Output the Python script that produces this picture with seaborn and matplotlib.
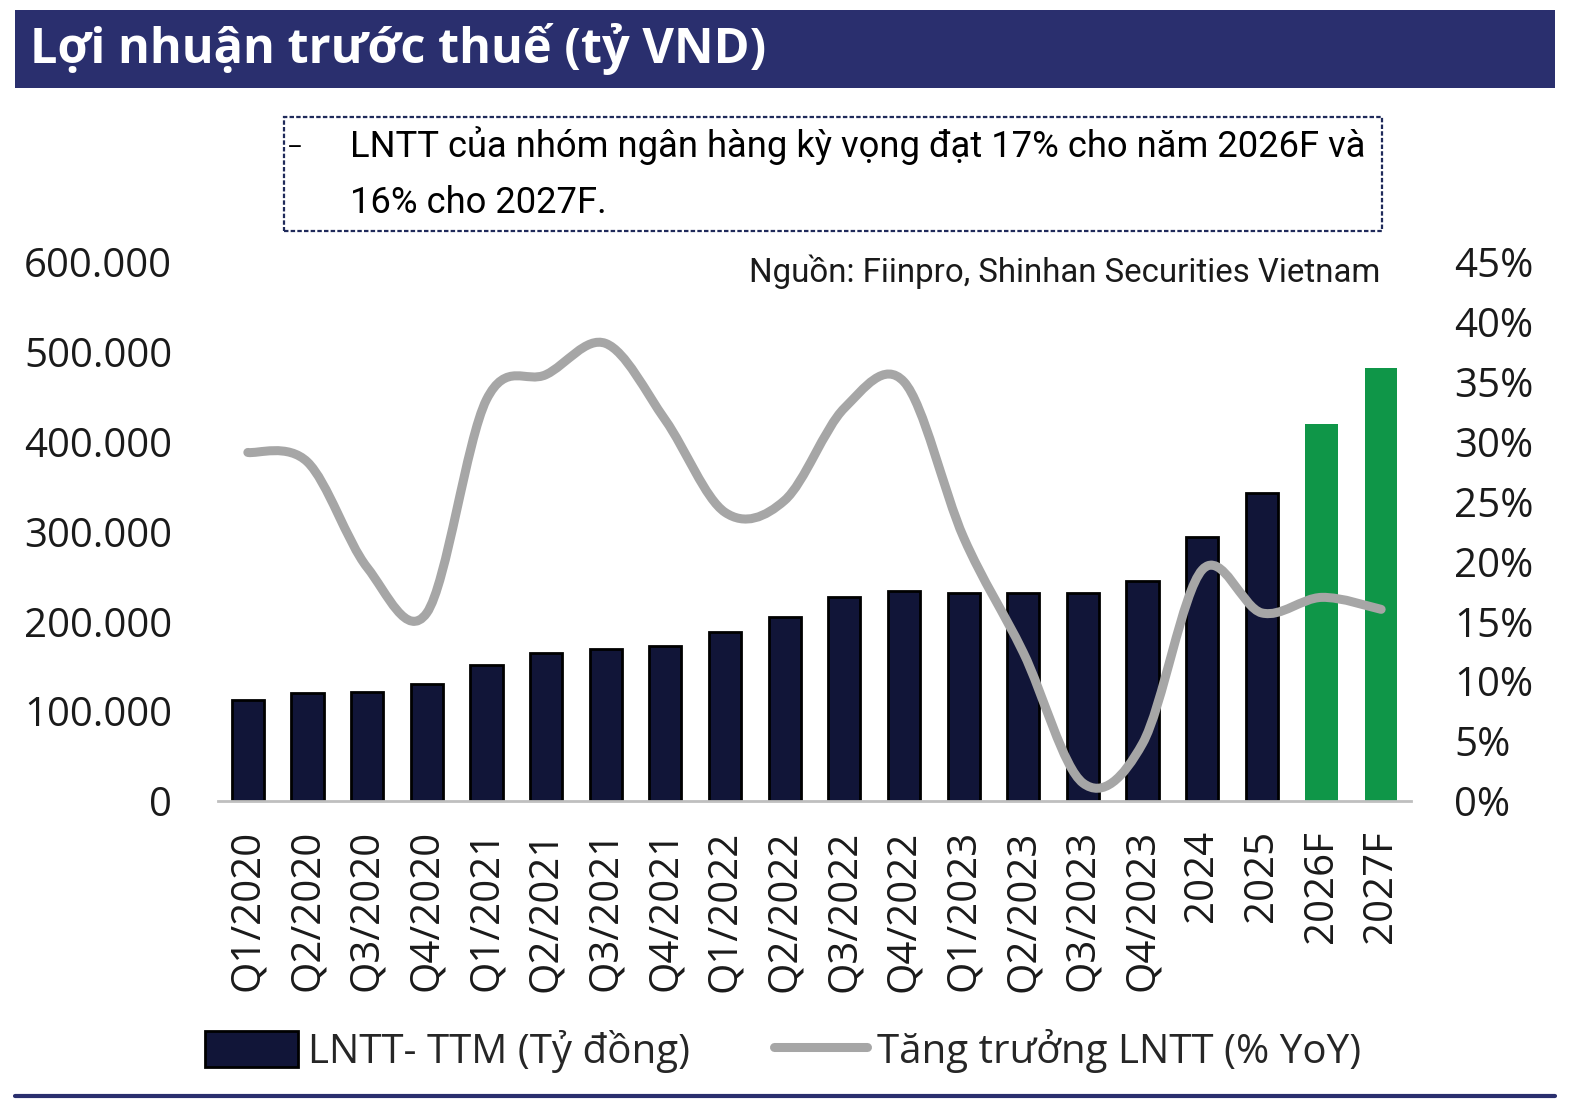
import matplotlib
matplotlib.use("Agg")
import matplotlib.pyplot as plt
import seaborn as sns
import numpy as np
from matplotlib.patches import Rectangle, PathPatch, Patch
from matplotlib.path import Path
from matplotlib.lines import Line2D
from matplotlib.ticker import FuncFormatter, MultipleLocator

# data
periods = ["Q1/2020", "Q2/2020", "Q3/2020", "Q4/2020", "Q1/2021", "Q2/2021", "Q3/2021", "Q4/2021",
           "Q1/2022", "Q2/2022", "Q3/2022", "Q4/2022", "Q1/2023", "Q2/2023", "Q3/2023", "Q4/2023",
           "2024", "2025", "2026F", "2027F"]
profit_ttm = [112000, 120000, 121000, 130000, 151000, 165000, 169000, 173000,
              188000, 205000, 227000, 234000, 232000, 231000, 231000, 245000,
              294000, 343000, 420000, 482000]
growth_yoy = [29.1, 28.3, 19.5, 15.7, 33.5, 35.6, 38.2, 31.8,
              24.1, 25.1, 32.8, 35.0, 22.0, 12.4, 1.5, 4.8,
              19.3, 15.7, 17.0, 16.0]
forecast = ["2026F", "2027F"]

NAVY = "#111538"
GREEN = "#0f9648"
GREY = "#a6a6a6"
BANNER = "#2a2f6e"

sns.set_theme(style="white")
plt.rcParams["font.family"] = ["Open Sans", "DejaVu Sans"]

W, H = 1575, 1111
fig = plt.figure(figsize=(W / 100, H / 100), dpi=100)

def fx(px):
    return px / W

def fy(py):
    return 1 - py / H

# title banner
fig.patches.append(Rectangle((fx(15), fy(88)), fx(1540), 78 / H, transform=fig.transFigure,
                             facecolor=BANNER, edgecolor="none"))
fig.text(fx(30), fy(49), "Lợi nhuận trước thuế (tỷ VND)", color="white", fontsize=35,
         fontweight="bold", va="center", ha="left")

# comment box
fig.patches.append(Rectangle((fx(284), fy(231)), fx(1098), 114 / H, transform=fig.transFigure,
                             facecolor="none", edgecolor="#1f2a5a", linestyle=(0, (2, 1)), lw=1.6))
narrow = ["Roboto", "DejaVu Sans"]
fig.text(fx(288), fy(146), "–", fontsize=20, va="center", ha="left", color="black")
fig.text(fx(350), fy(146), "LNTT của nhóm ngân hàng kỳ vọng đạt 17% cho năm 2026F và",
         fontsize=26.2, family=narrow, va="center", ha="left", color="black")
fig.text(fx(350), fy(203), "16% cho 2027F.", fontsize=26.2, family=narrow, va="center",
         ha="left", color="black")

# axes
ax = fig.add_axes([fx(218), fy(801), fx(1411 - 218), (801 - 262) / H])
colors = [GREEN if p in forecast else NAVY for p in periods]
sns.barplot(x=periods, y=profit_ttm, hue=periods, palette=colors, legend=False,
            width=0.54, ax=ax, saturation=1)
for bar, p in zip(ax.patches, periods):
    if p in forecast:
        bar.set_edgecolor("none")
    else:
        bar.set_edgecolor("black")
        bar.set_linewidth(2)
ax.set_xlim(-0.5, len(periods) - 0.5)
ax.set_ylim(0, 600000)
ax.yaxis.set_major_locator(MultipleLocator(100000))
ax.yaxis.set_major_formatter(FuncFormatter(lambda v, _: f"{v:,.0f}".replace(",", ".")))
ax.tick_params(axis="y", labelsize=29, length=0, pad=33, colors="#1a1a1a")
ax.tick_params(axis="x", labelsize=29, length=0, pad=21, labelrotation=90, colors="#1a1a1a")
for lbl in ax.get_xticklabels():
    lbl.set_va("top")
for s in ["top", "right", "left"]:
    ax.spines[s].set_visible(False)
ax.spines["bottom"].set_color("#bfbfbf")
ax.spines["bottom"].set_linewidth(2)
ax.grid(False)

# secondary axis with the smoothed growth line
ax2 = ax.twinx()
ax2.set_ylim(0, 45)
ax2.yaxis.set_major_locator(MultipleLocator(5))
ax2.yaxis.set_major_formatter(FuncFormatter(lambda v, _: f"{v:.0f}%"))
ax2.tick_params(axis="y", labelsize=29, length=0, pad=31, colors="#1a1a1a")
for s in ax2.spines.values():
    s.set_visible(False)
ax2.grid(False)

xs = np.arange(len(periods), dtype=float)
ys = np.array(growth_yoy)
verts = [(xs[0], ys[0])]
codes = [Path.MOVETO]
n = len(xs)
for i in range(n - 1):
    p0 = np.array([xs[max(i - 1, 0)], ys[max(i - 1, 0)]])
    p1 = np.array([xs[i], ys[i]])
    p2 = np.array([xs[i + 1], ys[i + 1]])
    p3 = np.array([xs[min(i + 2, n - 1)], ys[min(i + 2, n - 1)]])
    c1 = p1 + (p2 - p0) / 6
    c2 = p2 - (p3 - p1) / 6
    verts += [tuple(c1), tuple(c2), tuple(p2)]
    codes += [Path.CURVE4] * 3
ax2.add_patch(PathPatch(Path(verts, codes), facecolor="none", edgecolor=GREY, lw=6.5,
                        capstyle="round", joinstyle="round"))

# legend
handles = [Patch(facecolor=NAVY, edgecolor="black", lw=2),
           Line2D([0], [0], color=GREY, lw=6.5, solid_capstyle="round")]
fig.legend(handles, ["LNTT- TTM (Tỷ đồng)", "Tăng trưởng LNTT (% YoY)"], ncol=2,
           loc="center", bbox_to_anchor=(fx(783), fy(1051)), frameon=False,
           handlelength=2.3, handleheight=1.0, handletextpad=0.25, columnspacing=2.1,
           prop={"family": ["Open Sans", "DejaVu Sans"], "size": 29})

# source note
fig.text(fx(1380), fy(272), "Nguồn: Fiinpro, Shinhan Securities Vietnam", fontsize=23.8,
         family=narrow, ha="right", va="center", color="#1a1a1a")

# bottom rule
fig.add_artist(Line2D([fx(15), fx(1555)], [fy(1096), fy(1096)], transform=fig.transFigure,
                      color=BANNER, lw=3))

fig.savefig("out.png", dpi=100, facecolor="white")
